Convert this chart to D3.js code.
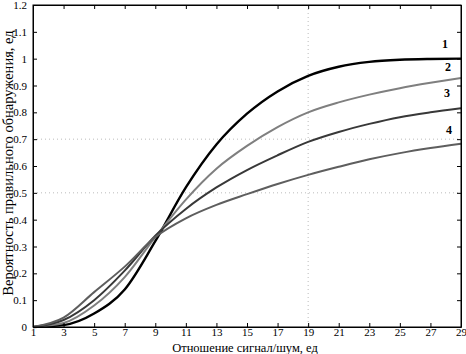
<!DOCTYPE html>
<html>
<head>
<meta charset="utf-8">
<script src="https://cdn.jsdelivr.net/npm/d3@7"></script>
<style>
  body { margin: 0; background: #fff; }
  svg text { font-family: "Liberation Serif", "DejaVu Serif", serif; }
</style>
</head>
<body>
<div id="chart"></div>
<script>
// Размеры
var width = 466;
var height = 354;
var margin = { top: 5, right: 5, bottom: 27, left: 33 };
var w = width - margin.left - margin.right;
var h = height - margin.top - margin.bottom;

// Данные (отношение сигнал/шум)
var snr = [1, 3, 5, 7, 9, 11, 13, 15, 17, 19, 21, 23, 25, 27, 29];
var curve1 = [0, 0.007, 0.05, 0.14, 0.32, 0.52, 0.68, 0.795, 0.878, 0.936, 0.97, 0.988, 0.996, 0.999, 1.0];
var curve2 = [0, 0.015, 0.08, 0.186, 0.335, 0.475, 0.59, 0.675, 0.745, 0.80, 0.837, 0.866, 0.89, 0.91, 0.928];
var curve3 = [0, 0.026, 0.10, 0.21, 0.34, 0.44, 0.52, 0.585, 0.64, 0.69, 0.727, 0.757, 0.782, 0.80, 0.815];
var curve4 = [0, 0.035, 0.13, 0.225, 0.335, 0.405, 0.455, 0.495, 0.533, 0.567, 0.597, 0.625, 0.648, 0.667, 0.683];
var curveNames = ["1", "2", "3", "4"];
var xTicks = [1, 3, 5, 7, 9, 11, 13, 15, 17, 19, 21, 23, 25, 27, 29];
var yTicks = [0, 0.1, 0.2, 0.3, 0.4, 0.5, 0.6, 0.7, 0.8, 0.9, 1, 1.1, 1.2];

var series = [
  { name: curveNames[0], values: curve1, color: "#000000", width: 2.4 },
  { name: curveNames[1], values: curve2, color: "#7f7f7f", width: 2 },
  { name: curveNames[2], values: curve3, color: "#383838", width: 2 },
  { name: curveNames[3], values: curve4, color: "#5e5e5e", width: 2 }
];

var svg = d3.select("#chart")
  .append("svg")
  .attr("width", width)
  .attr("height", height);

var g = svg.append("g")
  .attr("transform", "translate(" + margin.left + "," + margin.top + ")");

var x = d3.scaleLinear().domain([1, 29]).range([0, w]);
var y = d3.scaleLinear().domain([0, 1.2]).range([h, 0]);

// Сетка (пунктир)
g.append("line")
  .attr("x1", x(19)).attr("x2", x(19))
  .attr("y1", 0).attr("y2", h)
  .attr("stroke", "#bbb").attr("stroke-dasharray", "1,3");
[0.5, 0.7].forEach(function (v) {
  g.append("line")
    .attr("x1", 0).attr("x2", w)
    .attr("y1", y(v)).attr("y2", y(v))
    .attr("stroke", "#bbb").attr("stroke-dasharray", "1,3");
});

// Кривые
var line = d3.line()
  .x(function (d, i) { return x(snr[i]); })
  .y(function (d) { return y(d); })
  .curve(d3.curveMonotoneX);

g.selectAll(".curve")
  .data(series)
  .enter()
  .append("path")
  .attr("class", "curve")
  .attr("fill", "none")
  .attr("stroke", function (d) { return d.color; })
  .attr("stroke-width", function (d) { return d.width; })
  .attr("d", function (d) { return line(d.values); });

// Оси
var fmt = function (d) { return d3.format("~g")(d); };
g.append("g")
  .attr("transform", "translate(0," + h + ")")
  .call(d3.axisBottom(x).tickValues(xTicks).tickSizeInner(-4).tickSizeOuter(0).tickPadding(1));
g.append("g")
  .call(d3.axisLeft(y).tickValues(yTicks).tickFormat(fmt).tickSizeInner(-4).tickSizeOuter(0).tickPadding(6));
g.append("g")
  .call(d3.axisTop(x).tickValues(xTicks).tickSizeInner(-4).tickSizeOuter(0).tickFormat(""));
g.append("g")
  .attr("transform", "translate(" + w + ",0)")
  .call(d3.axisRight(y).tickValues(yTicks).tickSizeInner(-4).tickSizeOuter(0).tickFormat(""));

g.selectAll(".domain").attr("stroke", "#000");
g.selectAll(".tick line").attr("stroke", "#000");
g.selectAll(".tick text").attr("font-size", 11).attr("font-family", "Liberation Serif").attr("fill", "#000");

// Рамка
g.append("rect")
  .attr("width", w).attr("height", h)
  .attr("fill", "none").attr("stroke", "#000");

// Подписи кривых
var labelPos = [[445, 48], [448, 71], [447, 97], [449, 134]];
series.forEach(function (s, i) {
  svg.append("text")
    .attr("x", labelPos[i][0]).attr("y", labelPos[i][1])
    .attr("text-anchor", "middle")
    .attr("font-size", 12).attr("font-weight", "bold")
    .text(s.name);
});

// Подписи осей
svg.append("text")
  .attr("x", 245)
  .attr("y", 352)
  .attr("text-anchor", "middle")
  .attr("font-size", 12.5)
  .text("Отношение сигнал/шум, ед");

svg.append("text")
  .attr("transform", "translate(13,163) rotate(-90)")
  .attr("text-anchor", "middle")
  .attr("font-size", 14.5)
  .text("Вероятность правильного обнаружения, ед");
</script>
</body>
</html>
